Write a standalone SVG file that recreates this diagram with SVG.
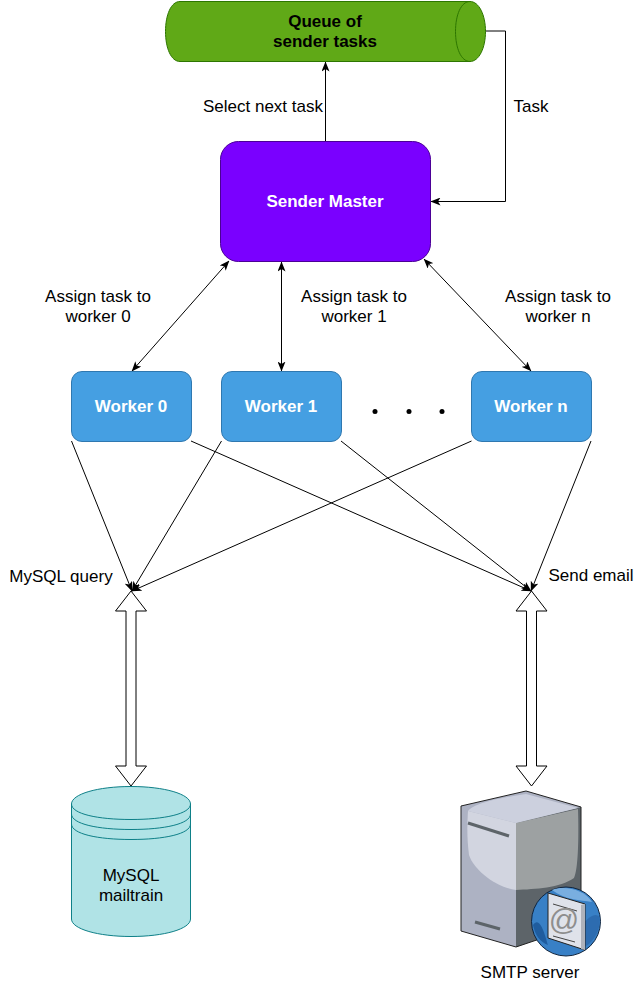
<svg xmlns="http://www.w3.org/2000/svg" width="644" height="999" viewBox="0 0 644 999">
<style>
text{font-family:"Liberation Sans",Arial,sans-serif;font-size:17px;fill:#000;text-anchor:middle}
.b{font-weight:bold}
.w{fill:#fff;font-weight:bold}
.c{fill:none;stroke:#000;stroke-width:1}
.worker{fill:#459fe2;stroke:#2f78b0;stroke-width:1}
.big{fill:#fff;stroke:#000;stroke-width:1;stroke-linejoin:miter}
.db{fill:#b0e3e6;stroke:#0e8088;stroke-width:1}
</style>
<defs>
<marker id="a" viewBox="0 0 10 8" refX="9.500" refY="4" markerWidth="10" markerHeight="8" markerUnits="userSpaceOnUse" orient="auto-start-reverse"><path d="M0 0L10 4L0 8L2.500 4Z" fill="#000"/></marker>
</defs>
<rect width="644" height="999" fill="#fff"/>
<g id="connectors">
<path class="c" d="M325.500 141V62" marker-end="url(#a)"/>
<path class="c" d="M485 31H505.500V201.500H431" marker-end="url(#a)"/>
<path class="c" d="M132 371L229 261" marker-start="url(#a)" marker-end="url(#a)"/>
<path class="c" d="M281.500 371V262" marker-start="url(#a)" marker-end="url(#a)"/>
<path class="c" d="M531 371L424 259" marker-start="url(#a)" marker-end="url(#a)"/>
<path class="c" d="M71.500 441L132 591" marker-end="url(#a)"/>
<path class="c" d="M191 441L531 591" marker-end="url(#a)"/>
<path class="c" d="M221.500 441L132 591" marker-end="url(#a)"/>
<path class="c" d="M341 441L531 591" marker-end="url(#a)"/>
<path class="c" d="M471.500 441L132 591" marker-end="url(#a)"/>
<path class="c" d="M591 441L531 591" marker-end="url(#a)"/>
<path class="big" d="M131 591L146.500 611H136V766H146.500L131 786L115.500 766H126V611H115.500Z"/>
<path class="big" d="M531.500 591L547 611H536.500V766H547L531.500 786L516 766H526.500V611H516Z"/>
</g>
<g id="queue">
<path d="M180 1.500H470C479 1.500 485.500 15 485.500 31.500S479 61.500 470 61.500H180C171 61.500 165.500 48 165.500 31.500S171 1.500 180 1.500Z" fill="#60a917" stroke="#2d7600"/>
<path d="M470 1.500C461 1.500 455.500 15 455.500 31.500S461 61.500 470 61.500" fill="none" stroke="#2d7600"/>
<text class="b" x="325" y="27">Queue of</text>
<text class="b" x="325" y="47">sender tasks</text>
</g>
<g id="master">
<rect x="220.500" y="141.500" width="210" height="120" rx="18" fill="#7a00ff" stroke="#4b0096"/>
<text class="w" x="325" y="207">Sender Master</text>
</g>
<g id="worker0"><rect class="worker" x="71.500" y="371.500" width="120" height="70" rx="10.500"/><text class="w" x="131" y="412">Worker 0</text></g>
<g id="worker1"><rect class="worker" x="221.500" y="371.500" width="120" height="70" rx="10.500"/><text class="w" x="281" y="412">Worker 1</text></g>
<g id="workern"><rect class="worker" x="471.500" y="371.500" width="120" height="70" rx="10.500"/><text class="w" x="531" y="412">Worker n</text></g>
<g id="dots" fill="#000"><circle cx="375" cy="411.500" r="2.500"/><circle cx="409" cy="411.500" r="2.500"/><circle cx="442" cy="411.500" r="2.500"/></g>
<g id="labels">
<text x="263" y="112">Select next task</text>
<text x="531" y="112">Task</text>
<text x="98" y="302">Assign task to</text><text x="98" y="322">worker 0</text>
<text x="354" y="302">Assign task to</text><text x="354" y="322">worker 1</text>
<text x="558" y="302">Assign task to</text><text x="558" y="322">worker n</text>
<text x="61" y="582">MySQL query</text>
<text x="591" y="581">Send email</text>
</g>
<g id="mysql">
<path class="db" d="M71.500 804C71.500 794 98 786.500 131 786.500S190.500 794 190.500 804V919C190.500 929 164 936.500 131 936.500S71.500 929 71.500 919Z"/>
<path d="M71.500 804C71.500 814 98 819.500 131 819.500S190.500 814 190.500 804M71.500 814C71.500 824 98 829.500 131 829.500S190.500 824 190.500 814M71.500 824C71.500 834 98 839.500 131 839.500S190.500 834 190.500 824" fill="none" stroke="#0e8088"/>
<text x="131" y="881">MySQL</text><text x="131" y="901">mailtrain</text>
</g>
<g id="smtp">
<path d="M461 806L526 791L581 807V925L516 947L461 931Z" fill="#adb2c3"/>
<path d="M516 823L581 807V925L516 947Z" fill="#5d6469"/>
<path d="M516 823L578 809C579 840 578 870 574 878C560 888 535 889 516 890Z" fill="#9da1a2"/>
<path d="M516 823L468 811C472 806 485 800 526 794L578 808Z" fill="#ccd0de"/>
<path d="M468 811L516 823V890C495 887 474 870 469 855C467 840 467 825 468 811Z" fill="#d2d5e0"/>
<path d="M468 823L509 836" stroke="#5d6469" stroke-width="3" fill="none"/>
<path d="M475 922L500 929" stroke="#5d6469" stroke-width="3" fill="none"/>
<path d="M461 806L526 791L581 807V925L516 947L461 931Z" fill="none" stroke="#222"/>
<circle cx="566" cy="921.500" r="34.500" fill="#3880c6" stroke="#10253f"/>
<path d="M552 890C565 885 585 890 592 902C580 900 565 900 552 890Z" fill="#79aee0"/>
<path d="M533 925C540 915 545 935 548 945C540 942 535 935 533 925Z" fill="#1f5c9e"/>
<path d="M582 925C590 915 597 912 600 918C600 935 590 945 582 948Z" fill="#2d6cb0"/>
<path d="M548 893L585 904V950L548 938Z" fill="#dfe2ea" stroke="#222"/>
<path d="M585 904V950L581 949V905Z" fill="#aeb2bb"/>
<path d="M553 904L577 911M553 936L575 942" stroke="#444" fill="none"/>
<text x="564" y="930" style="font-size:30px;fill:#8e8e8e">@</text>
<text x="530" y="978">SMTP server</text>
</g>
</svg>
